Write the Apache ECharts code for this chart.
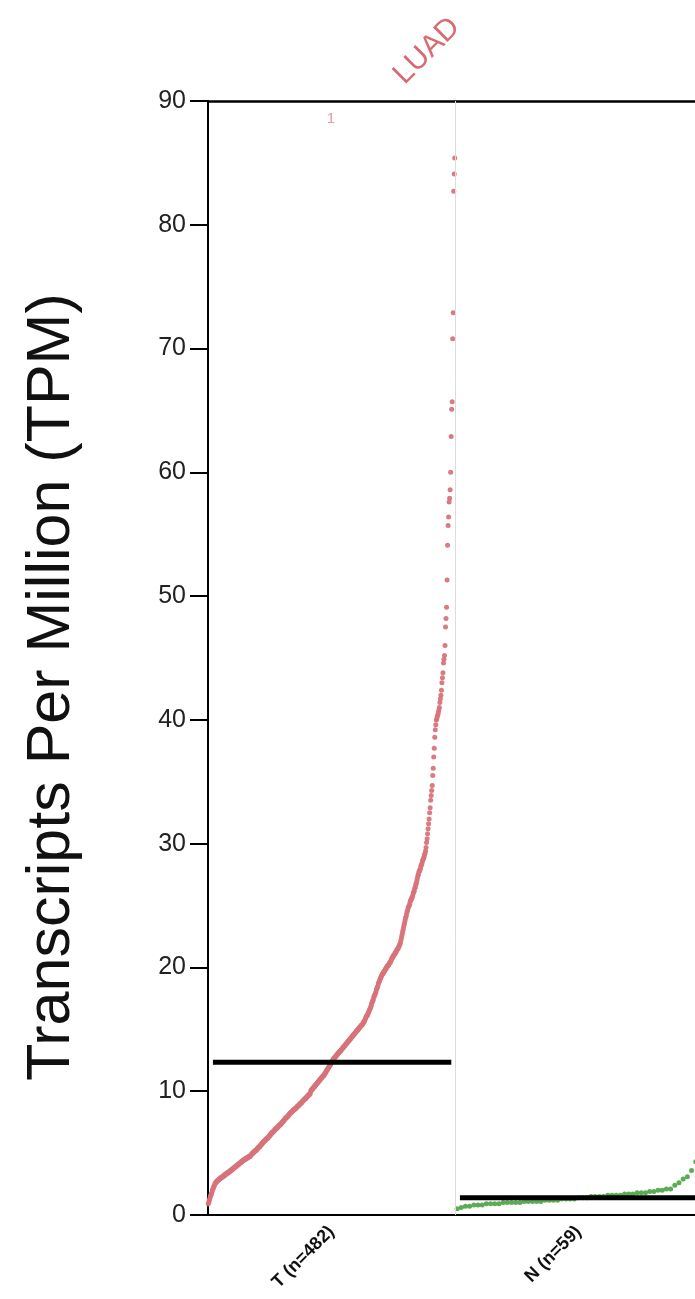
<!DOCTYPE html>
<html>
<head>
<meta charset="utf-8">
<script src="https://cdn.jsdelivr.net/npm/echarts@6/dist/echarts.min.js"></script>
<style>
html,body{margin:0;padding:0;background:#fff;overflow:hidden;}
#chart{width:695px;height:1299px;}
</style>
</head>
<body>
<div id="chart"></div>
<script>
// ---- data ----
const cancerType = 'LUAD';
const groups = ['T', 'N'];
const yAxisTitle = 'Transcripts Per Million (TPM)';
const yMin = 0, yMax = 90, yStep = 10;
const outlierNote = '1';

// Tumor samples (sorted TPM), n = 482
const tumorTPM = [
0.9,1.0,1.2,1.3,1.5,1.6,1.7,1.8,2.0,2.1,
2.2,2.3,2.4,2.5,2.6,2.6,2.7,2.7,2.8,2.8,
2.8,2.9,2.9,2.9,3.0,3.0,3.0,3.1,3.1,3.1,
3.2,3.2,3.2,3.3,3.3,3.3,3.4,3.4,3.4,3.4,
3.5,3.5,3.5,3.6,3.6,3.6,3.7,3.7,3.7,3.8,
3.8,3.8,3.9,3.9,3.9,4.0,4.0,4.0,4.1,4.1,
4.1,4.2,4.2,4.2,4.3,4.3,4.3,4.4,4.4,4.4,
4.5,4.5,4.5,4.5,4.6,4.6,4.6,4.6,4.7,4.7,
4.7,4.7,4.8,4.8,4.9,4.9,5.0,5.0,5.0,5.1,
5.1,5.2,5.2,5.2,5.3,5.3,5.4,5.4,5.5,5.5,
5.5,5.6,5.6,5.7,5.7,5.8,5.8,5.9,5.9,6.0,
6.0,6.0,6.1,6.1,6.2,6.2,6.2,6.3,6.3,6.4,
6.4,6.5,6.5,6.6,6.6,6.7,6.7,6.7,6.8,6.8,
6.9,6.9,7.0,7.0,7.0,7.1,7.1,7.2,7.2,7.3,
7.3,7.3,7.4,7.4,7.5,7.5,7.6,7.6,7.7,7.7,
7.8,7.8,7.9,7.9,7.9,8.0,8.0,8.1,8.1,8.2,
8.2,8.3,8.3,8.3,8.4,8.4,8.5,8.5,8.5,8.6,
8.6,8.6,8.7,8.7,8.8,8.8,8.8,8.9,8.9,9.0,
9.0,9.0,9.1,9.1,9.2,9.2,9.3,9.3,9.4,9.4,
9.4,9.5,9.5,9.6,9.6,9.7,9.7,9.7,9.8,9.8,
10.0,10.1,10.1,10.2,10.2,10.3,10.3,10.4,10.4,10.5,
10.5,10.6,10.6,10.7,10.7,10.8,10.8,10.9,10.9,11.0,
11.0,11.1,11.1,11.2,11.2,11.3,11.3,11.4,11.5,11.5,
11.6,11.7,11.7,11.8,11.9,11.9,12.0,12.1,12.1,12.2,
12.3,12.4,12.4,12.5,12.6,12.6,12.7,12.7,12.8,12.8,
12.9,12.9,13.0,13.0,13.1,13.1,13.2,13.2,13.3,13.3,
13.4,13.4,13.5,13.5,13.6,13.6,13.7,13.7,13.8,13.8,
13.9,13.9,14.0,14.0,14.1,14.1,14.2,14.2,14.3,14.3,
14.4,14.4,14.5,14.5,14.6,14.6,14.7,14.7,14.8,14.8,
14.9,14.9,15.0,15.0,15.1,15.1,15.2,15.2,15.3,15.3,
15.4,15.4,15.5,15.6,15.6,15.7,15.8,15.9,16.0,16.1,
16.1,16.2,16.3,16.4,16.5,16.6,16.7,16.8,16.9,17.1,
17.2,17.3,17.4,17.6,17.7,17.8,17.9,18.0,18.2,18.3,
18.4,18.5,18.7,18.8,18.9,19.0,19.1,19.2,19.3,19.4,
19.5,19.5,19.6,19.7,19.7,19.8,19.9,19.9,20.0,20.1,
20.1,20.2,20.2,20.3,20.4,20.4,20.5,20.6,20.7,20.8,
20.8,20.9,21.0,21.0,21.1,21.2,21.2,21.3,21.4,21.5,
21.5,21.6,21.7,21.8,21.9,22.0,22.2,22.4,22.6,22.8,
23.0,23.2,23.4,23.6,23.8,24.0,24.1,24.3,24.5,24.6,
24.8,24.9,25.0,25.1,25.3,25.4,25.5,25.6,25.7,25.8,
26.0,26.1,26.2,26.4,26.5,26.7,26.8,27.0,27.2,27.4,
27.5,27.7,27.8,27.9,28.0,28.2,28.3,28.4,28.6,28.7,
28.8,28.9,29.1,29.2,29.4,29.7,30.1,30.4,30.8,31.2,
31.6,32.0,32.5,32.9,33.5,33.9,34.3,34.7,35.5,36.1,
37.0,37.7,38.6,39.2,39.6,40.0,40.1,40.3,40.4,40.6,
40.8,41.0,41.4,41.7,42.0,42.4,43.0,43.4,43.8,44.6,
44.9,45.2,46.0,47.5,48.2,49.1,51.3,54.1,55.7,56.4,
57.6,57.9,58.6,60.0,62.9,65.1,65.7,70.8,72.9,82.7,
84.1,85.4
];

// Normal samples (sorted TPM), n = 59
const normalTPM = [
0.5,0.6,0.7,0.7,0.8,0.8,0.8,0.9,0.9,0.9,
0.9,1.0,1.0,1.0,1.0,1.0,1.1,1.1,1.1,1.1,
1.1,1.2,1.2,1.2,1.2,1.3,1.3,1.3,1.3,1.4,
1.4,1.4,1.5,1.5,1.5,1.5,1.6,1.6,1.6,1.6,
1.7,1.7,1.7,1.8,1.8,1.8,1.9,1.9,2.0,2.0,
2.1,2.1,2.4,2.6,2.9,3.1,3.6,4.3,6.5
];

// ---- helpers ----
function median(a){
  const s = a.slice().sort((x,y)=>x-y);
  const m = s.length;
  return m % 2 ? s[(m-1)/2] : (s[m/2-1] + s[m/2]) / 2;
}
const sets = [tumorTPM, normalTPM];
const labels = groups.map((g,k)=> g + ' (n=' + sets[k].length + ')');
const colors = ['#d8737a', '#52a84b'];
const FONT = '"Liberation Sans", Arial, sans-serif';

const scatterSeries = sets.map((arr,k)=>({
  type: 'scatter',
  symbol: 'circle',
  symbolSize: 5,
  itemStyle: { color: colors[k], opacity: 0.95 },
  data: arr.map((v,i)=>[k + (i+0.5)/arr.length, v]),
  z: 2,
  silent: true
}));
const medianSeries = sets.map((arr,k)=>{
  const m = median(arr);
  return {
    type: 'line',
    symbol: 'none',
    lineStyle: { color: '#000', width: 5 },
    data: [[k + 0.02, m], [k + 0.985, m]],
    z: 3,
    silent: true
  };
});
scatterSeries[0].markLine = {
  silent: true,
  symbol: 'none',
  label: { show: false },
  lineStyle: { color: '#dcdcdc', width: 1, type: 'solid' },
  data: [{ xAxis: 1 }]
};

const chart = echarts.init(document.getElementById('chart'), null, { renderer: 'canvas' });
chart.setOption({
  animation: false,
  backgroundColor: '#fff',
  grid: { left: 208, top: 101, width: 494, height: 1114, containLabel: false, outerBoundsMode: 'none' },
  xAxis: [{
    type: 'value', min: 0, max: groups.length, interval: 0.5,
    position: 'bottom',
    axisLine: { show: true, lineStyle: { color: '#000', width: 2 } },
    axisTick: { show: false },
    splitLine: { show: false },
    axisLabel: {
      rotate: 45, margin: 14, hideOverlap: false,
      fontFamily: FONT, fontSize: 18, fontWeight: 'bold', color: '#111',
      formatter: function(v){
        const k = Math.round(v - 0.5);
        return Math.abs(v - (k + 0.5)) < 1e-6 && labels[k] ? labels[k] : '';
      }
    }
  },{
    type: 'value', min: 0, max: groups.length,
    position: 'top',
    axisLine: { show: true, onZero: false, lineStyle: { color: '#000', width: 2.5 } },
    axisTick: { show: false }, axisLabel: { show: false }, splitLine: { show: false }
  }],
  yAxis: {
    type: 'value', min: yMin, max: yMax, interval: yStep,
    axisLine: { show: true, lineStyle: { color: '#000', width: 2 } },
    axisTick: { show: true, length: 18, lineStyle: { color: '#000', width: 2 } },
    splitLine: { show: false },
    axisLabel: { margin: 22, fontFamily: FONT, fontSize: 25, color: '#222' }
  },
  graphic: [
    {
      type: 'text', x: 52, y: 687, rotation: Math.PI/2,
      style: { text: yAxisTitle, font: '61px ' + FONT, fill: '#111', align: 'center', verticalAlign: 'middle' }
    },
    {
      type: 'text', x: 427, y: 51, rotation: Math.PI/4,
      style: { text: cancerType, font: '30px ' + FONT, fill: '#d86a72', align: 'center', verticalAlign: 'middle' }
    },
    {
      type: 'text', x: 331, y: 119,
      style: { text: outlierNote, font: '15px ' + FONT, fill: '#e39aa0', align: 'center', verticalAlign: 'middle' }
    }
  ],
  series: scatterSeries.concat(medianSeries)
});
</script>
</body>
</html>
